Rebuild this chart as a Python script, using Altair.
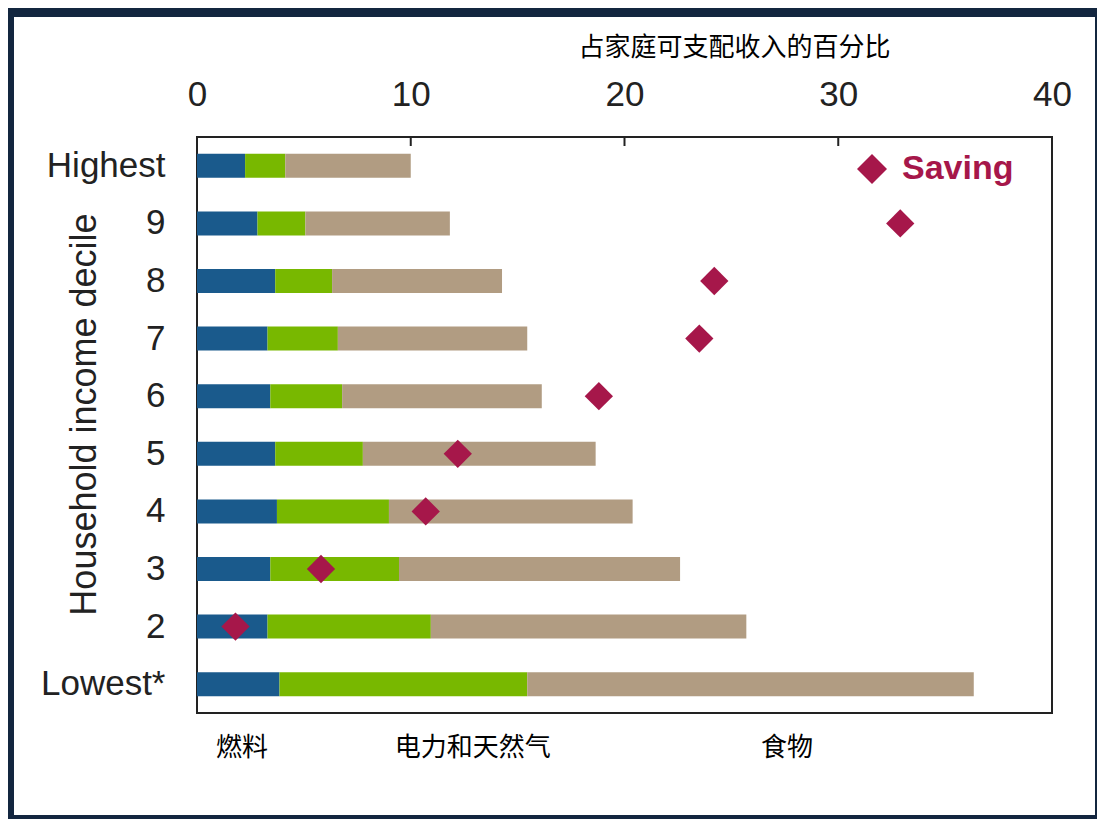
import altair as alt
import pandas as pd

# ---- data ----
categories = ["Highest", "9", "8", "7", "6", "5", "4", "3", "2", "Lowest*"]
components = ["燃料", "电力和天然气", "食物"]
fuel = [2.25, 2.83, 3.66, 3.30, 3.43, 3.66, 3.74, 3.43, 3.30, 3.86]
electricity_gas = [1.88, 2.24, 2.66, 3.29, 3.36, 4.10, 5.24, 6.02, 7.64, 11.59]
food = [5.87, 6.76, 7.95, 8.86, 9.34, 10.89, 11.40, 13.15, 14.76, 20.89]
saving = [None, 32.9, 24.2, 23.5, 18.8, 12.2, 10.7, 5.8, 1.8, None]
x_ticks = [0, 10, 20, 30, 40]
inner_ticks = [10, 20, 30]
label_positions = [2.1, 12.9, 27.6]  # x positions (data units) of the bottom category labels

component_colors = ["#1a5a8c", "#78b800", "#b19c82"]
saving_color = "#a6174a"
navy = "#13263f"

W, H = 855, 576

rows = []
for i, c in enumerate(categories):
    for k, (name, arr) in enumerate(zip(components, [fuel, electricity_gas, food])):
        rows.append({"decile": c, "component": name, "value": arr[i], "order": k})
bar_df = pd.DataFrame(rows)

sav_df = pd.DataFrame({"decile": categories, "saving": saving, "series": ["Saving"] * len(categories)}).dropna()
lab_df = pd.DataFrame({"component": components, "pos": label_positions})
tick_df = pd.DataFrame({"t": inner_ticks})

x_scale = alt.Scale(domain=[0, 40], nice=False, zero=True)
y_scale = alt.Scale(paddingInner=0.58, paddingOuter=0.29)

bars = alt.Chart(bar_df).mark_bar(size=24).encode(
    y=alt.Y("decile:N", sort=categories, scale=y_scale,
            axis=alt.Axis(title="Household income decile", titleFont="Liberation Sans",
                          titleFontSize=36, titleFontWeight="normal", titleColor="#222",
                          titleX=-102, titleY=277, titleAngle=270, titleAlign="center",
                          titleBaseline="alphabetic",
                          labelFont="Liberation Sans", labelFontSize=35, labelColor="#222",
                          labelPadding=32, ticks=False, domain=False)),
    x=alt.X("value:Q", stack="zero", scale=x_scale,
            axis=alt.Axis(orient="top", values=x_ticks, title="占家庭可支配收入的百分比",
                          titleFont="Noto Sans CJK SC", titleFontSize=26, titleFontWeight="normal",
                          titleColor="black", titleX=537, titleY=-90, titleAlign="center",
                          titleBaseline="middle",
                          labelFont="Liberation Sans", labelFontSize=35, labelColor="#222",
                          labelPadding=25, labelFlush=False,
                          ticks=False, domain=False, grid=False)),
    color=alt.Color("component:N", scale=alt.Scale(domain=components, range=component_colors), legend=None),
    order=alt.Order("order:Q"),
)

points = alt.Chart(sav_df).mark_point(filled=True, size=800, opacity=1, color=saving_color).encode(
    y=alt.Y("decile:N", sort=categories),
    x=alt.X("saving:Q"),
    shape=alt.Shape("series:N", scale=alt.Scale(domain=["Saving"], range=["diamond"]),
                    legend=alt.Legend(orient="none", legendX=658, legendY=15, title=None,
                                      symbolType="diamond", symbolSize=900,
                                      symbolFillColor=saving_color, symbolStrokeWidth=0,
                                      labelFont="Liberation Sans", labelFontSize=34,
                                      labelFontWeight="bold", labelColor=saving_color,
                                      labelOffset=13, padding=0)),
)

ticks = alt.Chart(tick_df).mark_rule(color="#222", strokeWidth=2).encode(
    x=alt.X("t:Q"),
    y=alt.value(0), y2=alt.value(9),
)

labels = alt.Chart(lab_df).mark_text(font="Noto Sans CJK SC", fontSize=26, color="black",
                                     baseline="middle", align="center").encode(
    x=alt.X("pos:Q"),
    y=alt.value(H + 35),
    text="component:N",
)

one = pd.DataFrame({"a": [0]})
def band(x0, x1, y0, y1):
    return alt.Chart(one).mark_rect(color=navy).encode(
        x=alt.value(x0), x2=alt.value(x1), y=alt.value(y0), y2=alt.value(y1))

frame = [
    band(-189, 900, -129, -120),
    band(-189, 900, 678, 682),
    band(-189, -183, -129, 682),
    band(898, 900, -129, 682),
]

chart = alt.layer(bars, points, ticks, labels, *frame).properties(
    width=W, height=H,
    padding={"left": 189, "top": 129, "right": 45, "bottom": 106},
    autosize=alt.AutoSizeParams(type="none"),
).configure(background="white").configure_view(stroke="#222", strokeWidth=2)

chart.save("out.html", embed_options={"renderer": "svg", "actions": False})
